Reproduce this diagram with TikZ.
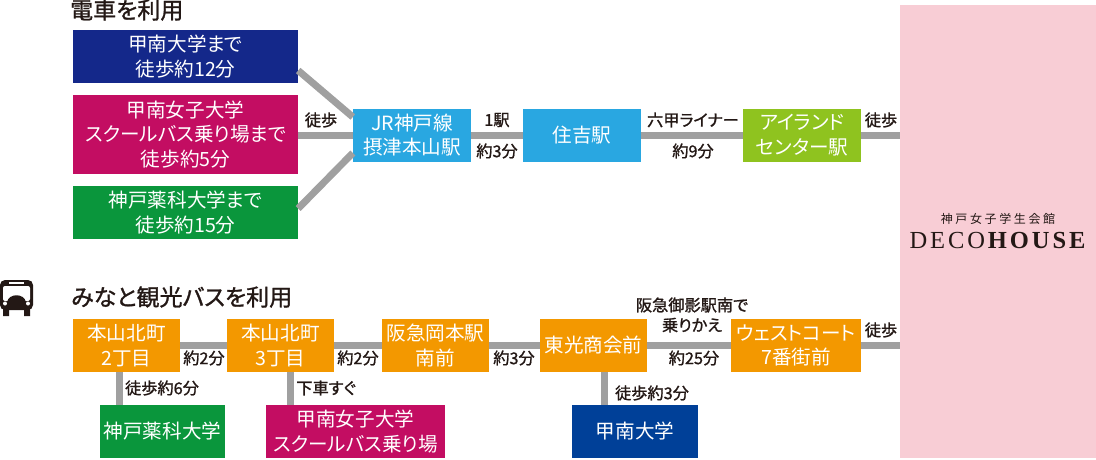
\documentclass[tikz,border=0pt]{standalone}
\usepackage{fontspec}
\setmainfont[RawFeature=+palt]{Noto Sans CJK JP}
\newfontfamily\lblfont[RawFeature=+palt,FakeBold=1.2]{Noto Sans CJK JP}
\newfontfamily\decofont[LetterSpace=12]{Liberation Serif}
\newfontfamily\kanfont[LetterSpace=22]{Noto Sans CJK JP}
\definecolor{linegray}{HTML}{A0A0A0}
\definecolor{inkblack}{HTML}{231815}
\definecolor{navyblue}{HTML}{14288A}
\definecolor{konanblue}{HTML}{004098}
\definecolor{magentared}{HTML}{C30D62}
\definecolor{leafgreen}{HTML}{0A963C}
\definecolor{skyblue}{HTML}{29A7E1}
\definecolor{limegreen}{HTML}{8FC31F}
\definecolor{stoporange}{HTML}{F39800}
\definecolor{decopink}{HTML}{F8CDD5}
\tikzset{
	stopbox/.style={rectangle, inner sep=0pt, text=white, align=center, minimum height=53, font=\fontsize{19.6}{24.5}\selectfont},
	conn/.style={linegray, line width=7},
	lbl/.style={inner sep=0pt, text=inkblack, align=center, font=\lblfont\fontsize{16.2}{20}\selectfont},
	headline/.style={inner sep=0pt, anchor=west, text=inkblack, font=\lblfont\fontsize{23}{26}\selectfont}
}
\begin{document}
\begin{tikzpicture}[x=1pt,y=-1pt]
	\useasboundingbox (0,0) rectangle (1096,459);
	% destination
	\node[fill=decopink, inner sep=0pt, minimum width=196, minimum height=453] (deco) at (998,231.5) {};
	\node[inner sep=0pt, text=inkblack, font=\kanfont\fontsize{12}{14}\selectfont] (decokan) at (998,219) {神戸女子学生会館};
	\node[inner sep=0pt, text=inkblack, font=\decofont\fontsize{24.5}{28}\selectfont] (deconame) at (999,241) {DECO\textbf{HOUSE}};
	% train
	\node[headline] (traintitle) at (70,10) {電車を利用};
	\node[stopbox, fill=navyblue, minimum width=225] (konan) at (185.5,56.5) {甲南大学まで\\徒歩約12分};
	\node[stopbox, fill=magentared, minimum width=225, minimum height=79] (joshi) at (185.5,134.5) {甲南女子大学\\スクールバス乗り場まで\\徒歩約5分};
	\node[stopbox, fill=leafgreen, minimum width=225] (yakka) at (185.5,212.5) {神戸薬科大学まで\\徒歩約15分};
	\node[stopbox, fill=skyblue, minimum width=118] (settsu) at (412,135) {JR神戸線\\摂津本山駅};
	\node[stopbox, fill=skyblue, minimum width=118] (sumiyoshi) at (582,135) {住吉駅};
	\node[stopbox, fill=limegreen, minimum width=118] (island) at (802,135) {アイランド\\センター駅};
	\draw[conn] ([yshift=-14]konan.east) -- ([yshift=18]settsu.west);
	\draw[conn] (settsu.west -| joshi.east) -- (settsu.west);
	\draw[conn] ([yshift=4]yakka.east) -- ([yshift=-18]settsu.west);
	\draw[conn] (settsu) -- (sumiyoshi);
	\draw[conn] (sumiyoshi) -- (island);
	\draw[conn] (island) -- (island -| deco.west);
	\node[lbl] (walkA) at (321,120) {徒歩};
	\node[lbl] (oneA) at (497,120) {1駅};
	\node[lbl] (minA) at (497,151) {約3分};
	\node[lbl] (liner) at (693,120) {六甲ライナー};
	\node[lbl] (minB) at (693,151) {約9分};
	\node[lbl] (walkB) at (881,120) {徒歩};
	% bus
	\fill[inkblack, rounded corners=5] (0,280) rectangle (33,310);
	\fill[inkblack] (3,308) rectangle (9,316) (24,308) rectangle (30,316);
	\fill[white, rounded corners=2] (3,286) rectangle (30,301);
	\fill[inkblack] (7,302) .. controls (9,293) and (24,293) .. (26,302) -- cycle;
	\fill[white] (9,281.5) rectangle (24,283.5);
	\fill[white] (5,303.5) circle (2) (28,303.5) circle (2);
	\node[headline] (bustitle) at (71,297) {みなと観光バスを利用};
	\node[stopbox, fill=stoporange, minimum width=107] (hokuA) at (126.5,345.5) {本山北町\\2丁目};
	\node[stopbox, fill=stoporange, minimum width=107] (hokuB) at (280.5,345.5) {本山北町\\3丁目};
	\node[stopbox, fill=stoporange, minimum width=107] (okamoto) at (435.5,345.5) {阪急岡本駅\\南前};
	\node[stopbox, fill=stoporange, minimum width=107] (toko) at (593.5,345.5) {東光商会前};
	\node[stopbox, fill=stoporange, minimum width=130] (west) at (796,345.5) {ウェストコート\\7番街前};
	\node[stopbox, fill=leafgreen, minimum width=125] (yakkadai) at (162.5,431.5) {神戸薬科大学};
	\node[stopbox, fill=magentared, minimum width=179] (joba) at (355.5,431.5) {甲南女子大学\\スクールバス乗り場};
	\node[stopbox, fill=konanblue, minimum width=126] (konandai) at (635,431.5) {甲南大学};
	\draw[conn] (hokuA) -- (hokuB);
	\draw[conn] (hokuB) -- (okamoto);
	\draw[conn] (okamoto) -- (toko);
	\draw[conn] (toko) -- (west);
	\draw[conn] (west) -- (west -| deco.west);
	\draw[conn] ([xshift=-7.5]hokuA.south) -- ([xshift=-7.5]hokuA.south |- yakkadai.north);
	\draw[conn] ([xshift=9.5]hokuB.south) -- ([xshift=9.5]hokuB.south |- joba.north);
	\draw[conn] ([xshift=10.5]toko.south) -- ([xshift=10.5]toko.south |- konandai.north);
	\node[lbl] (minC) at (204,358) {約2分};
	\node[lbl] (minD) at (358,358) {約2分};
	\node[lbl] (minE) at (514,358) {約3分};
	\node[lbl] (minF) at (694,358) {約25分};
	\node[lbl] (walkC) at (162,388) {徒歩約6分};
	\node[lbl] (getoff) at (326,388) {下車すぐ};
	\node[lbl] (walkD) at (652,393) {徒歩約3分};
	\node[lbl] (change) at (692,315) {阪急御影駅南で\\乗りかえ};
	\node[lbl] (walkE) at (881,330) {徒歩};
\end{tikzpicture}
\end{document}
